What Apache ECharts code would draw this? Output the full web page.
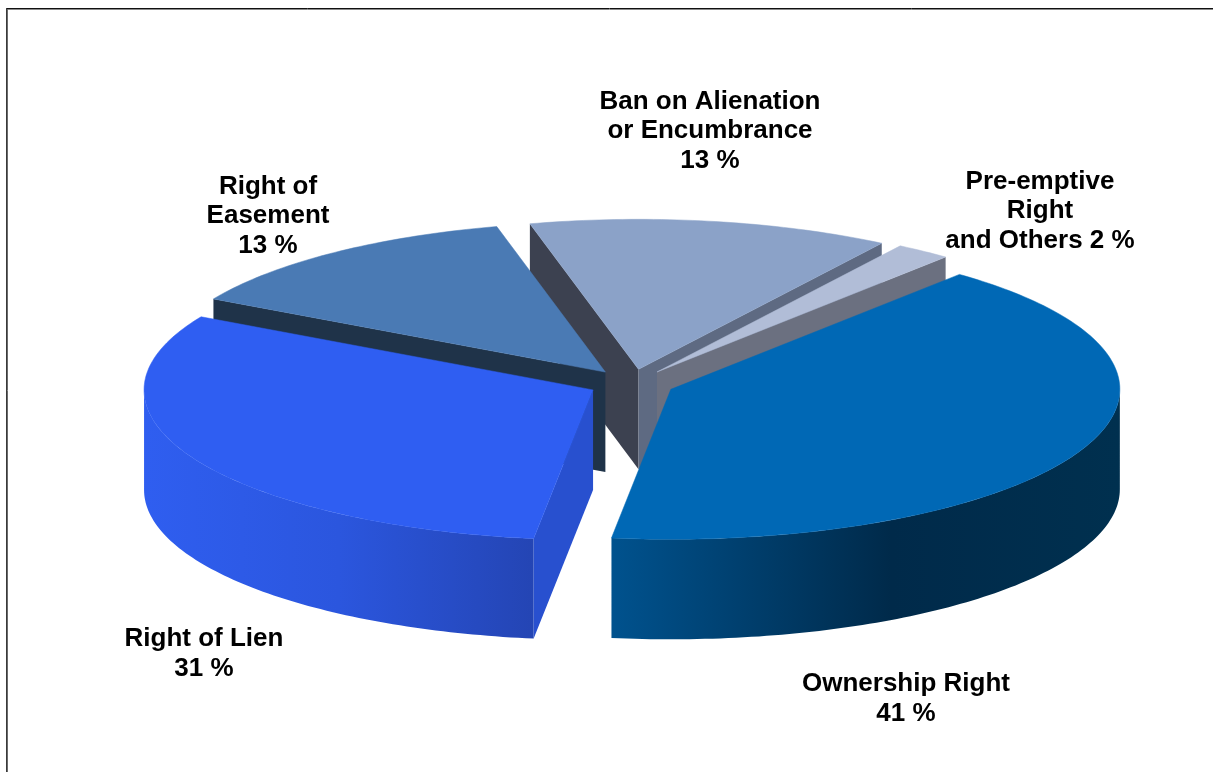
<!DOCTYPE html>
<html>
<head>
<meta charset="utf-8">
<script src="https://cdn.jsdelivr.net/npm/echarts@6/dist/echarts.min.js"></script>
<style>
  html, body { margin: 0; padding: 0; background: #ffffff; }
  #chart { width: 1213px; height: 772px; }
</style>
</head>
<body>
<div id="chart"></div>
<script>
// Registered rights by type (share of all entries, %)
const categories = [
  'Ownership Right',
  'Right of Lien',
  'Right of Easement',
  'Ban on Alienation or Encumbrance',
  'Pre-emptive Right and Others'
];
const shares = [41, 31, 13, 13, 2];
// Label text per slice; {v} is replaced by the share
const labelTemplates = [
  'Ownership Right\n{v} %',
  'Right of Lien\n{v} %',
  'Right of\nEasement\n{v} %',
  'Ban on Alienation\nor Encumbrance\n{v} %',
  'Pre-emptive\nRight\nand Others {v} %'
];

// Slice colours: top face, outer wall gradient, radial cut faces
const topColors   = ['#0068b5', '#2f5ef2', '#4a7ab4', '#8ba2c8', '#b1bdd7'];
const wallStops   = [
  [[0, '#00528e'], [0.55, '#002a4a'], [1, '#00304f']],
  [[0, '#2f5ef0'], [0.5, '#2b56de'], [1, '#2445b4']],
  [[0, '#1f3349'], [1, '#1f3349']],
  [[0, '#3c4150'], [1, '#3c4150']],
  [[0, '#6b7080'], [1, '#6b7080']]
];
const startFaceColors = ['#003a66', '#2850cf', '#1f3349', '#3c4150', '#5a6070'];
const endFaceColors   = ['#003a66', '#2546b8', '#1f3349', '#5e6a82', '#6b7080'];

// Layout of the tilted pie (pixels)
const CX = 631.5, CY = 383.5;   // centre of the top ellipse
const RX = 449, RY = 150;       // ellipse radii
const DEPTH = 100;              // wall height
const EXPLODE = 43;             // radial offset of every slice
const START_ANGLE = 40;         // first slice starts 40° clockwise from 12 o'clock
// Label anchors (centre of each text block)
const labelAnchors = [[906, 699], [204, 654], [268, 216], [710, 131], [1040, 211]];

const total = shares.reduce((a, b) => a + b, 0);
const spans = [];
let acc = START_ANGLE;
shares.forEach(v => { const sweep = v / total * 360; spans.push([acc, acc + sweep]); acc += sweep; });

// drawing order: slices further back first
const depthRank = (() => {
  const mids = spans.map(([s, e]) => -Math.cos((s + e) / 2 * Math.PI / 180));
  const order = mids.map((m, i) => i).sort((a, b) => mids[a] - mids[b]);
  const rank = [];
  order.forEach((idx, r) => { rank[idx] = r; });
  return rank;
})();

const rad = d => d * Math.PI / 180;

function renderItem(params, api) {
  const i = params.dataIndex;
  const value = api.value(0);
  const s = spans[i][0], e = spans[i][1];
  const mid = (s + e) / 2;
  const ox = CX + EXPLODE * Math.sin(rad(mid));
  const oy = CY - EXPLODE * (RY / RX) * Math.cos(rad(mid));
  const rim = (a, dy) => [ox + RX * Math.sin(rad(a)), oy - RY * Math.cos(rad(a)) + (dy || 0)];
  const arc = (a0, a1, dy) => {
    const pts = [];
    const n = Math.max(2, Math.ceil(Math.abs(a1 - a0)));
    for (let k = 0; k <= n; k++) pts.push(rim(a0 + (a1 - a0) * k / n, dy));
    return pts;
  };
  const apex = [ox, oy];
  const apexLow = [ox, oy + DEPTH];
  const base = depthRank[i] * 10;
  const children = [];

  // outer curved wall, only the part facing the viewer
  [[90, 270], [450, 630]].forEach(([lo, hi]) => {
    const a0 = Math.max(s, lo), a1 = Math.min(e, hi);
    if (a1 > a0) {
      const pts = arc(a0, a1, 0).concat(arc(a0, a1, DEPTH).reverse());
      children.push({
        type: 'polygon', z2: base + 1,
        shape: { points: pts },
        style: {
          fill: new echarts.graphic.LinearGradient(0, 0, 1, 0,
            wallStops[i].map(([o, c]) => ({ offset: o, color: c }))),
          stroke: null
        }
      });
    }
  });
  // radial cut faces
  if (Math.sin(rad(s)) < 0) {
    const p = rim(s, 0);
    children.push({
      type: 'polygon', z2: base + 1,
      shape: { points: [apex, p, [p[0], p[1] + DEPTH], apexLow] },
      style: { fill: startFaceColors[i], stroke: null }
    });
  }
  if (Math.sin(rad(e)) > 0) {
    const p = rim(e, 0);
    children.push({
      type: 'polygon', z2: base + 1,
      shape: { points: [apex, p, [p[0], p[1] + DEPTH], apexLow] },
      style: { fill: endFaceColors[i], stroke: null }
    });
  }
  // top face
  children.push({
    type: 'polygon', z2: base + 2,
    shape: { points: [apex].concat(arc(s, e, 0)) },
    style: { fill: topColors[i], stroke: topColors[i], lineWidth: 0.5 }
  });
  // label
  children.push({
    type: 'text', z2: 100,
    x: labelAnchors[i][0], y: labelAnchors[i][1],
    style: {
      text: labelTemplates[i].replace('{v}', value),
      fill: '#000000',
      font: 'bold 26px "Liberation Sans", Arial, sans-serif',
      lineHeight: 29.5,
      align: 'center',
      verticalAlign: 'middle'
    }
  });
  return { type: 'group', children };
}

const chart = echarts.init(document.getElementById('chart'), null, { renderer: 'canvas' });
chart.setOption({
  backgroundColor: '#ffffff',
  animation: false,
  graphic: [
    { type: 'line', shape: { x1: 6, y1: 8.5, x2: 1213, y2: 8.5 }, style: { stroke: '#111111', lineWidth: 1 } },
    { type: 'line', shape: { x1: 6, y1: 9.5, x2: 1213, y2: 9.5 }, style: { stroke: '#8a8a8a', lineWidth: 1 } },
    { type: 'line', shape: { x1: 6.5, y1: 8, x2: 6.5, y2: 772 }, style: { stroke: '#3a3a3a', lineWidth: 1 } },
    { type: 'line', shape: { x1: 7.5, y1: 9, x2: 7.5, y2: 772 }, style: { stroke: '#6a6a6a', lineWidth: 1 } }
  ],
  series: [{
    type: 'custom',
    coordinateSystem: 'none',
    renderItem: renderItem,
    data: shares.map((v, i) => ({ name: categories[i], value: [v] }))
  }]
});
</script>
</body>
</html>
